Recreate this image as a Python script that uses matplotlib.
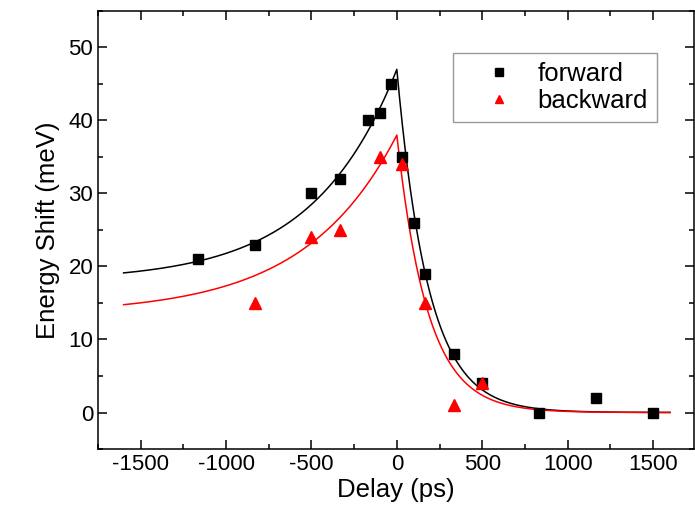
import numpy as np
import matplotlib
matplotlib.use("Agg")
import matplotlib.pyplot as plt
from matplotlib.ticker import MultipleLocator

plt.rcParams['font.family'] = ['Liberation Sans', 'DejaVu Sans']
plt.rcParams['axes.unicode_minus'] = False

# --- measured points ---
fwd_delay = [-1167, -833, -500, -333, -167, -100, -33, 33, 100, 167, 333, 500, 833, 1167, 1500]
fwd_shift = [21, 23, 30, 32, 40, 41, 45, 35, 26, 19, 8, 4, 0, 2, 0]

bwd_delay = [-833, -500, -333, -100, 33, 167, 333, 500]
bwd_shift = [15, 24, 25, 35, 34, 15, 1, 4]

# --- fit parameters (offset, amplitude, peak, rise tau, decay tau) ---
fwd_fit = dict(c=18.0, amp=29.0, peak=47.0, tau_rise=492.0, tau_decay=184.0)
bwd_fit = dict(c=13.5, amp=24.5, peak=38.0, tau_rise=540.0, tau_decay=180.0)


def fit_curve(t, c, amp, peak, tau_rise, tau_decay):
    return np.where(t < 0, c + amp * np.exp(t / tau_rise), peak * np.exp(-t / tau_decay))


t = np.linspace(-1600, 1600, 1201)

fig = plt.figure(figsize=(6.95, 5.18), dpi=100)
ax = fig.add_axes([0.141, 0.1332, 0.8575, 0.8456])

ax.plot(t, fit_curve(t, **fwd_fit), color='black', lw=1.1)
ax.plot(t, fit_curve(t, **bwd_fit), color='red', lw=1.1)
ax.plot(fwd_delay, fwd_shift, 's', color='black', ms=7, label='forward', zorder=3)
ax.plot(bwd_delay, bwd_shift, '^', color='red', ms=8, label='backward', zorder=3)

ax.set_xlim(-1750, 1740)
ax.set_ylim(-5, 55)
ax.xaxis.set_major_locator(MultipleLocator(500))
ax.xaxis.set_minor_locator(MultipleLocator(250))
ax.yaxis.set_major_locator(MultipleLocator(10))
ax.yaxis.set_minor_locator(MultipleLocator(5))
ax.tick_params(which='both', direction='in', top=True, right=True, labelsize=16, width=1.1)
ax.tick_params(which='major', length=6.5)
ax.tick_params(which='minor', length=3.6)
for s in ax.spines.values():
    s.set_linewidth(1.1)

ax.set_xlabel('Delay (ps)', fontsize=18.5, labelpad=2)
ax.set_ylabel('Energy Shift (meV)', fontsize=18.5, labelpad=6)

leg = ax.legend(loc='upper right', bbox_to_anchor=(0.938, 0.904), borderaxespad=0,
                fontsize=18.5, fancybox=False, edgecolor='gray', handlelength=2.9,
                handletextpad=0.05, borderpad=0.35, labelspacing=0.1, markerscale=0.8)
leg.get_frame().set_linewidth(1.0)

plt.savefig('out.png', dpi=100)
